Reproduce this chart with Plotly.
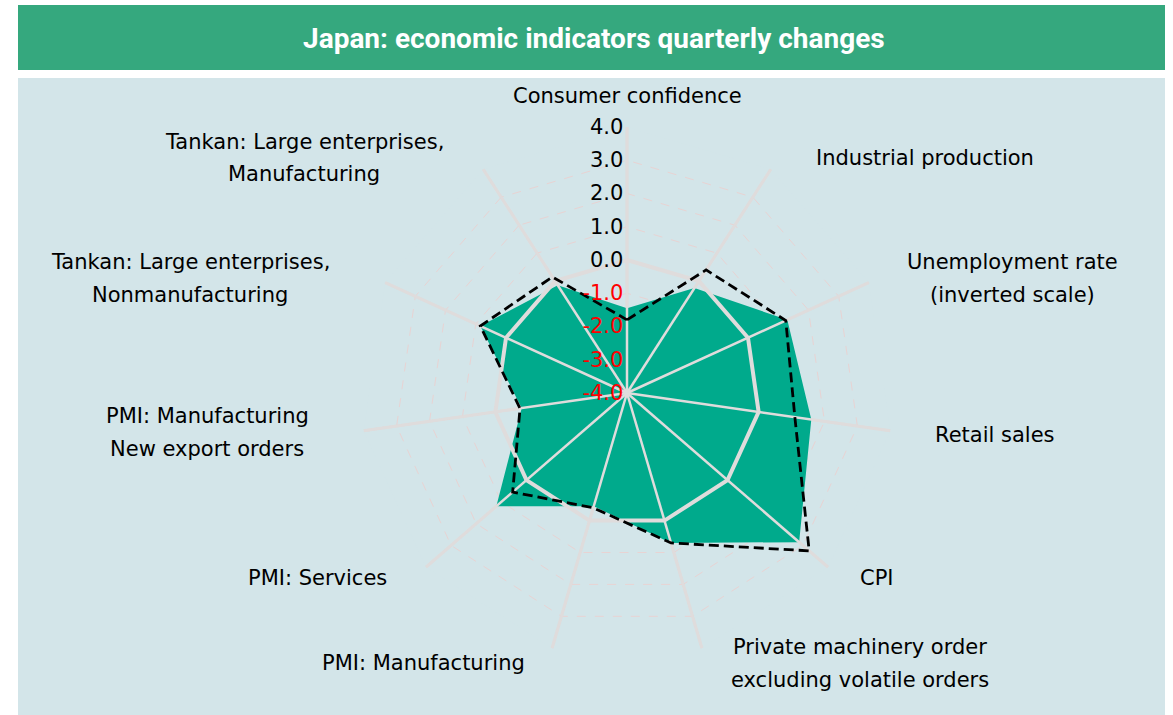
import plotly.graph_objects as go

# ---------------------------------------------------------------- data
categories = [
    "Consumer confidence",
    "Industrial production",
    "Unemployment rate<br>(inverted scale)",
    "Retail sales",
    "CPI",
    "Private machinery order<br>excluding volatile orders",
    "PMI: Manufacturing",
    "PMI: Services",
    "PMI: Manufacturing<br>New export orders",
    "Tankan: Large enterprises,<br>Nonmanufacturing",
    "Tankan: Large enterprises,<br>Manufacturing",
]
latest = [-1.45, -0.25, 1.3, 1.6, 2.85, 0.7, -0.45, 1.2, -0.8, 0.85, -0.15]
previous = [-1.8, 0.4, 1.25, 1.1, 3.25, 0.7, -0.4, 0.55, -0.75, 0.85, 0.15]
zero_line = [0.0] * len(categories)
radial_ticks = [-4, -3, -2, -1, 0, 1, 2, 3, 4]

# ---------------------------------------------------------------- style
W, H = 1173, 715
GREEN = "#00aa8c"
BAND = "#35a87e"
BG = "#d3e5e9"
SPOKE = "#dfdcdc"
RING = "#e8d3d3"
FONT = "DejaVu Sans, Open Sans, sans-serif"

# label centres (px) around the chart
label_pos = [(627, 96), (925, 158), (1012, 278), (995, 435), (877, 578),
             (860, 663), (423, 663), (317, 578), (207, 432), (190, 278),
             (304, 158)]
line_gap = 33

cx, cy, R = 627, 393, 266


def close(v):
    return list(v) + [v[0]]


theta_c = close(categories)

fig = go.Figure()

fig.add_trace(go.Scatterpolar(
    r=close(latest), theta=theta_c, mode="lines", fill="toself",
    fillcolor=GREEN, line=dict(width=0, color=GREEN), hoverinfo="skip"))

# spokes drawn over the fill
sr, st = [], []
for c in categories:
    sr += [radial_ticks[0], radial_ticks[-1], None]
    st += [c, c, c]
fig.add_trace(go.Scatterpolar(
    r=sr, theta=st, mode="lines", line=dict(color=SPOKE, width=2.5),
    connectgaps=False, hoverinfo="skip"))

fig.add_trace(go.Scatterpolar(
    r=close(zero_line), theta=theta_c, mode="lines",
    line=dict(color=SPOKE, width=4), hoverinfo="skip"))

fig.add_trace(go.Scatterpolar(
    r=close(previous), theta=theta_c, mode="lines",
    line=dict(color="black", width=2.8, dash="10px,5px"), hoverinfo="skip"))

ticktext = [("<span style='color:#ff0000'>%.1f</span>" % v) if v < 0
            else "%.1f" % v for v in radial_ticks]

fig.update_layout(
    width=W, height=H,
    margin=dict(l=0, r=0, t=0, b=0),
    paper_bgcolor="white",
    showlegend=False,
    polar=dict(
        domain=dict(x=[(cx - R) / W, (cx + R) / W],
                    y=[1 - (cy + R) / H, 1 - (cy - R) / H]),
        bgcolor=BG,
        gridshape="linear",
        angularaxis=dict(type="category", categoryarray=categories,
                         direction="clockwise", rotation=90,
                         showticklabels=False, ticks="", showline=False,
                         gridcolor=SPOKE, gridwidth=2.5),
        radialaxis=dict(range=[-4, 4], tickvals=radial_ticks, ticktext=ticktext,
                        angle=90, tickangle=90, side="counterclockwise",
                        showline=False, ticks="",
                        gridcolor=RING, griddash="dash", gridwidth=1.2,
                        tickfont=dict(family=FONT, size=21, color="black")),
    ),
    shapes=[
        dict(type="rect", xref="paper", yref="paper", layer="below",
             x0=18 / W, x1=1165 / W, y0=0, y1=1 - 78 / H,
             fillcolor=BG, line=dict(width=0)),
        dict(type="rect", xref="paper", yref="paper", layer="below",
             x0=18 / W, x1=1165 / W, y0=1 - 70 / H, y1=1 - 5 / H,
             fillcolor=BAND, line=dict(width=0)),
    ],
)

fig.add_annotation(
    text="Japan: economic indicators quarterly changes",
    xref="paper", yref="paper", x=594 / W, y=1 - 38 / H,
    xanchor="center", yanchor="middle", showarrow=False,
    font=dict(family="Roboto, sans-serif", size=28, weight=700, color="white"))

for text, (px, py) in zip(categories, label_pos):
    lines = text.split("<br>")
    top = py - line_gap * (len(lines) - 1) / 2
    for i, ln in enumerate(lines):
        fig.add_annotation(
            text=ln, xref="paper", yref="paper",
            x=px / W, y=1 - (top + i * line_gap) / H,
            xanchor="center", yanchor="middle", showarrow=False,
            font=dict(family=FONT, size=21, color="black"))

fig.write_html("out.html", config={"displayModeBar": False},
               post_script="document.body.style.margin = '0';")
